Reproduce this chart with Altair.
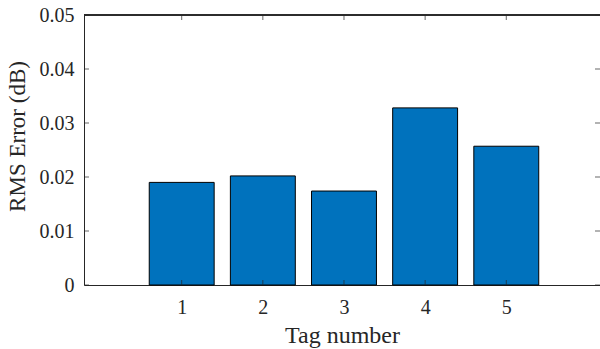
import altair as alt
import pandas as pd

# RMS error per tag
tags = [1, 2, 3, 4, 5]
rms_error = [0.0190, 0.0202, 0.0174, 0.0328, 0.0257]

y_ticks = [0, 0.01, 0.02, 0.03, 0.04, 0.05]
x_domain = [-0.204, 6.155]
y_domain = [0, 0.05]
bar_width = 0.8

AXIS = "#262626"
FONT = "Liberation Serif"
TICK_LEN = 5

bars_df = pd.DataFrame({"tag": tags, "rms": rms_error})
xt_df = pd.DataFrame({"tag": tags})
yt_df = pd.DataFrame({"rms": y_ticks})

x_scale = alt.Scale(domain=x_domain, nice=False, zero=False)
y_scale = alt.Scale(domain=y_domain, nice=False)

x_axis = alt.Axis(
    values=tags,
    title="Tag number",
    ticks=False,
    labelPadding=12,
    titlePadding=6,
    format="d",
    labelFontSize=20,
    titleFontSize=24,
)
y_axis = alt.Axis(
    values=y_ticks,
    title="RMS Error (dB)",
    ticks=False,
    labelPadding=10,
    titlePadding=10,
    titleY=121,
    format=".2~f",
    labelFontSize=20,
    titleFontSize=23,
)

bars = (
    alt.Chart(bars_df)
    .mark_bar(color="#0072BD", stroke="#000000", strokeWidth=1)
    .encode(
        x=alt.X("x0:Q", scale=x_scale, axis=x_axis),
        x2="x1:Q",
        y=alt.Y("rms:Q", scale=y_scale, axis=y_axis),
        y2=alt.datum(0),
    )
    .transform_calculate(
        x0=f"datum.tag - {bar_width / 2}",
        x1=f"datum.tag + {bar_width / 2}",
    )
)

tick_style = dict(color=AXIS, thickness=1, size=TICK_LEN)

# inward ticks on the bottom and top edges
bottom_ticks = (
    alt.Chart(xt_df)
    .mark_tick(**tick_style)
    .encode(x=alt.X("tag:Q", scale=x_scale, axis=x_axis), y=alt.value({"expr": f"height - {TICK_LEN / 2}"}))
)
top_ticks = (
    alt.Chart(xt_df)
    .mark_tick(**tick_style)
    .encode(x=alt.X("tag:Q", scale=x_scale, axis=x_axis), y=alt.value(TICK_LEN / 2))
)

# inward ticks on the left and right edges
left_ticks = (
    alt.Chart(yt_df)
    .mark_tick(orient="horizontal", **tick_style)
    .encode(y=alt.Y("rms:Q", scale=y_scale, axis=y_axis), x=alt.value(TICK_LEN / 2))
)
right_ticks = (
    alt.Chart(yt_df)
    .mark_tick(orient="horizontal", **tick_style)
    .encode(y=alt.Y("rms:Q", scale=y_scale, axis=y_axis), x=alt.value({"expr": f"width - {TICK_LEN / 2}"}))
)

# top edge of the axes box
top_frame = (
    alt.Chart(xt_df)
    .mark_rule(color=AXIS, strokeWidth=1)
    .encode(x=alt.value(0), x2=alt.value({"expr": "width"}), y=alt.value(0))
)

chart = (
    alt.layer(bars, bottom_ticks, top_ticks, left_ticks, right_ticks, top_frame)
    .properties(
        width=516,
        height=270,
        autosize=alt.AutoSizeParams(type="none"),
        padding={"left": 84, "top": 15, "right": 0, "bottom": 64},
        background="white",
    )
    .configure_view(strokeWidth=0)
    .configure_axis(
        domainColor=AXIS,
        domainWidth=1,
        grid=False,
        labelColor=AXIS,
        titleColor=AXIS,
        labelFont=FONT,
        titleFont=FONT,
        titleFontWeight="normal",
    )
)

chart.save("out.html", embed_options={"renderer": "svg", "actions": False})
